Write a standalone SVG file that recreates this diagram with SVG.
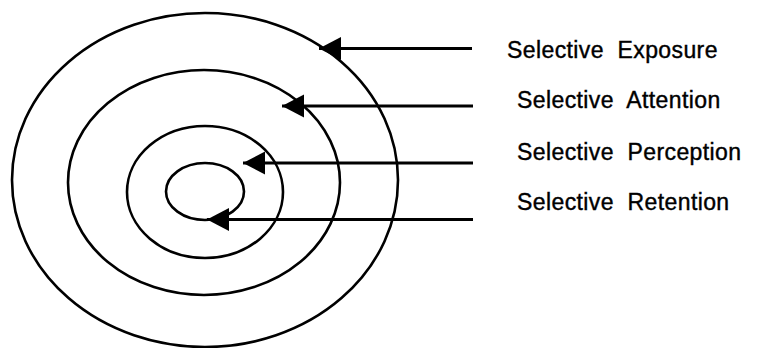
<svg xmlns="http://www.w3.org/2000/svg" width="757" height="348" viewBox="0 0 757 348">
<style>
.ring{fill:none;stroke:#000;stroke-width:2.6}
.conn{stroke:#000;stroke-width:3;fill:none;marker-end:url(#ah)}
.lbl{font-family:"Liberation Sans",Arial,sans-serif;font-size:23px;letter-spacing:0.4px;fill:#000;stroke:#000;stroke-width:0.4;white-space:pre}
</style>
<defs>
<marker id="ah" markerUnits="userSpaceOnUse" markerWidth="24" markerHeight="24" refX="22" refY="11.5" orient="auto" viewBox="0 0 24 24">
<path d="M0,0 L22,11.5 L0,23 z" fill="#000"/>
</marker>
</defs>
<rect width="757" height="348" fill="#fff"/>
<g id="ring-exposure"><ellipse class="ring" cx="205" cy="180" rx="193" ry="167"/></g>
<g id="ring-attention"><ellipse class="ring" cx="204" cy="182.5" rx="136" ry="112.5"/></g>
<g id="ring-perception"><ellipse class="ring" cx="205" cy="192" rx="78" ry="66"/></g>
<g id="ring-retention"><ellipse class="ring" cx="205" cy="191.5" rx="39" ry="28.5"/></g>
<g id="connectors">
<line class="conn" x1="472" y1="48.5" x2="319" y2="48.5"/>
<line class="conn" x1="473" y1="106" x2="282" y2="106"/>
<line class="conn" x1="473" y1="163" x2="243" y2="163"/>
<line class="conn" x1="473" y1="219.5" x2="207" y2="219.5"/>
</g>
<g id="label-exposure"><text class="lbl" x="507" y="58" xml:space="preserve">Selective  Exposure</text></g>
<g id="label-attention"><text class="lbl" x="517" y="108" xml:space="preserve">Selective  Attention</text></g>
<g id="label-perception"><text class="lbl" x="517" y="160" xml:space="preserve">Selective  Perception</text></g>
<g id="label-retention"><text class="lbl" x="517" y="210" xml:space="preserve">Selective  Retention</text></g>
</svg>
